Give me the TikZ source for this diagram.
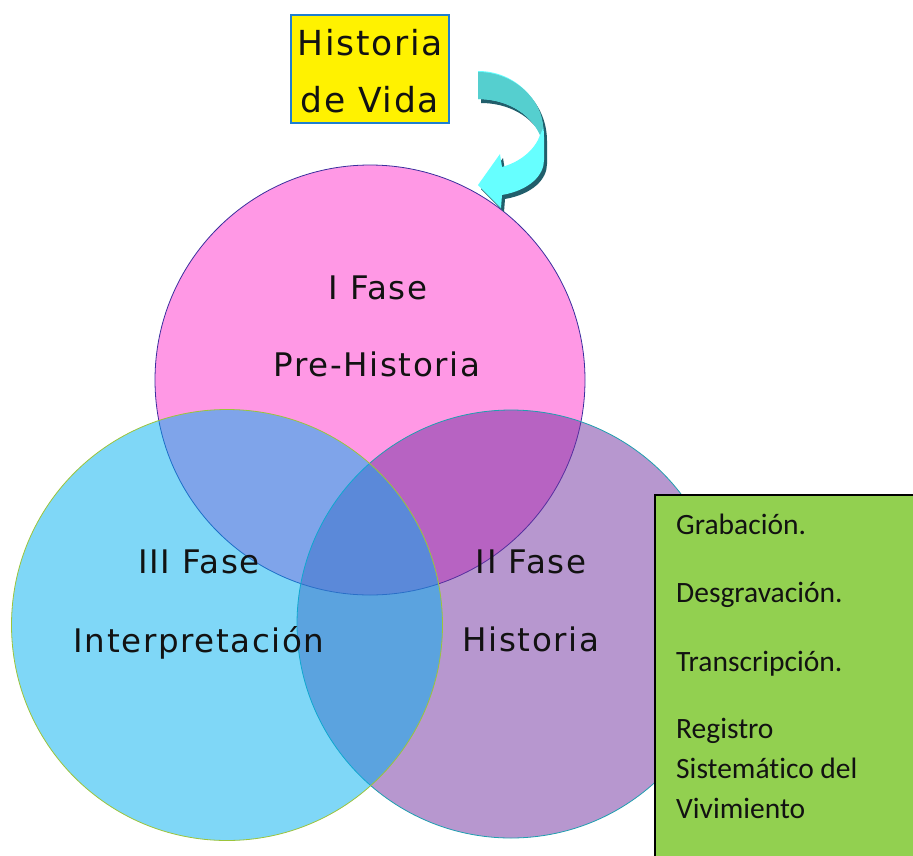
\documentclass[tikz,border=0pt]{standalone}
\usepackage{fontspec}
\newfontfamily\vfont[LetterSpace=5]{DejaVu Sans}
\newfontfamily\cfont[Ligatures=NoCommon]{Carlito}
\definecolor{pinkbase}{HTML}{FF33CC}
\definecolor{purplebase}{HTML}{7030A0}
\definecolor{cyanbase}{HTML}{00B0F0}
\definecolor{pinkline}{HTML}{3A2E9E}
\definecolor{purpleline}{HTML}{1F9FAF}
\definecolor{cyanline}{HTML}{9CC43A}
\definecolor{boxgreen}{HTML}{92D050}
\definecolor{boxblue}{HTML}{1F7FD0}
\definecolor{arrowlight}{HTML}{66FFFF}
\definecolor{arrowteal}{HTML}{55CFCF}
\definecolor{arrowshadow}{HTML}{215E6B}
\tikzset{
  venn/.style={circle, minimum size=430pt, inner sep=0pt, fill opacity=0.5, line width=0.8pt},
  vlabel/.style={anchor=base, inner sep=0pt, font=\vfont\fontsize{32.5}{38}\selectfont, text=black!93},
  glabel/.style={anchor=base west, inner sep=0pt, font=\cfont\fontsize{29.5}{36}\selectfont, text=black!93},
}
\begin{document}
\begin{tikzpicture}[x=1pt, y=-1pt]
\useasboundingbox (0,0) rectangle (913,855);
\fill[white] (0,0) rectangle (913,855);
% circles
\node[venn, fill=pinkbase, draw=pinkline, minimum size=430pt] (pink) at (370,380) {};
\node[venn, fill=purplebase, draw=purpleline, minimum size=428pt] (purple) at (511,624) {};
\node[venn, fill=cyanbase, draw=cyanline, minimum size=431pt] (cyan) at (227,625) {};
% circle labels
\node[vlabel] (f1) at (378,299) {I Fase};
\node[vlabel] (f1b) at (377,376) {Pre-Historia};
\node[vlabel] (f3) at (199,573) {III Fase};
\node[vlabel] (f3b) at (199,652) {Interpretación};
\node[vlabel] (f2) at (531,573) {II Fase};
\node[vlabel] (f2b) at (531,651) {Historia};
% yellow box
\draw[boxblue, line width=2pt, fill=yellow] (291,15) rectangle (449,123);
\node[vlabel, font=\vfont\fontsize{34.5}{40}\selectfont] (hv1) at (370,55) {Historia};
\node[vlabel, font=\vfont\fontsize{34.5}{40}\selectfont] (hv2) at (370,112) {de Vida};
% arrow shadow
\fill[arrowshadow, shift={(3,4)}]
  (478,71) .. controls (515,71) and (544,100) .. (544,137) -- (544,160)
  .. controls (544,175) and (530,190) .. (502,195) -- (501,208) -- (478,185)
  -- (500,154) -- (502,167) .. controls (520,162) and (535,150) .. (540,135)
  .. controls (530,112) and (505,99) .. (478,99) -- cycle;
% arrow body
\fill[arrowlight]
  (478,71) .. controls (515,71) and (544,100) .. (544,137) -- (544,160)
  .. controls (544,175) and (530,190) .. (502,195) -- (501,208) -- (478,185)
  -- (500,154) -- (502,167) .. controls (520,162) and (535,150) .. (540,135)
  .. controls (530,112) and (505,99) .. (478,99) -- cycle;
\fill[arrowteal]
  (478,72) .. controls (514,72) and (543,100) .. (543,128) -- (540,135)
  .. controls (530,112) and (505,99) .. (478,99) -- cycle;
% green box
\draw[black, line width=2pt, fill=boxgreen] (655,495) rectangle (930,870);
\node[glabel] (g1) at (676,534) {Grabación.};
\node[glabel] (g2) at (676,602) {Desgravación.};
\node[glabel] (g3) at (676,671) {Transcripción.};
\node[glabel] (g4) at (676,738) {Registro};
\node[glabel] (g5) at (676,778) {Sistemático del};
\node[glabel] (g6) at (676,818) {Vivimiento};
\end{tikzpicture}
\end{document}
